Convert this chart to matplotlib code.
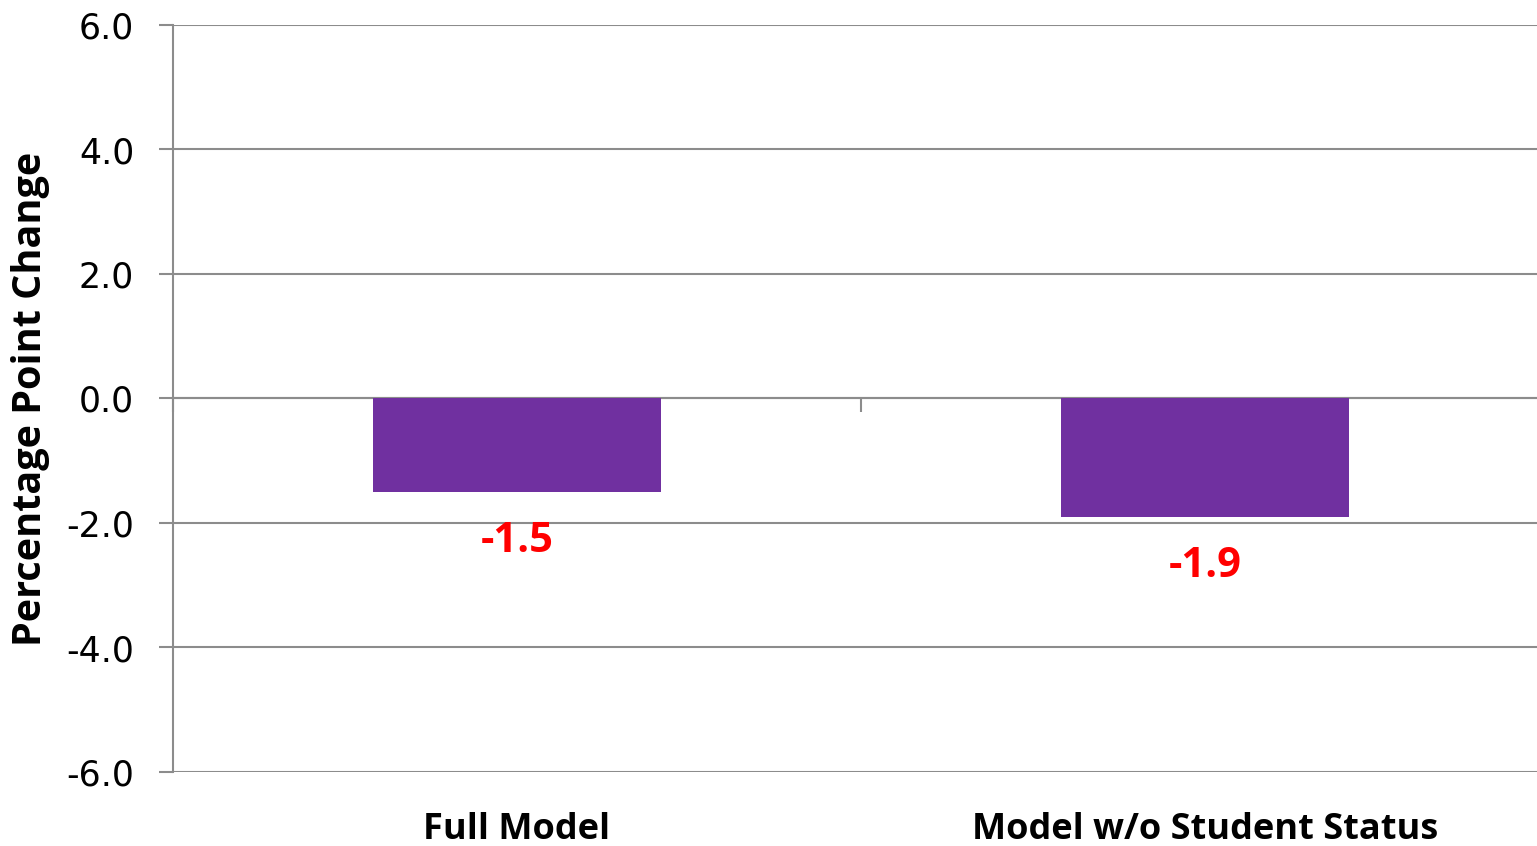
import numpy as np
import matplotlib
matplotlib.use('Agg')
import matplotlib.pyplot as plt

models = ['Full Model', 'Model w/o Student Status']
change = [-1.5, -1.9]
yticks = [-6.0, -4.0, -2.0, 0.0, 2.0, 4.0, 6.0]

grid_c = '#8c8c8c'
bar_c = '#7030a0'

fig = plt.figure(figsize=(15.37, 8.46), dpi=100)
# plot area runs a little past the right edge of the figure
ax = fig.add_axes([173 / 1537, 1 - 772 / 846, 1376 / 1537, (772 - 25) / 846])

x = np.arange(len(models))
ax.bar(x, change, width=0.42, color=bar_c, zorder=3)

ax.set_xlim(-0.5, len(models) - 0.5)
ax.set_ylim(yticks[0], yticks[-1])
ax.set_yticks(yticks)
ax.set_yticklabels([f'{v:.1f}' for v in yticks], fontsize=25, family='DejaVu Sans')
ax.tick_params(axis='y', length=10, width=1.5, color=grid_c, pad=18)
ax.yaxis.grid(True, color=grid_c, lw=1.5, zorder=0)

for s in ['top', 'right']:
    ax.spines[s].set_visible(False)
ax.spines['left'].set_color(grid_c)
ax.spines['left'].set_linewidth(1.5)
# horizontal axis crosses at zero, ticks at category boundaries
ax.spines['bottom'].set_position(('data', 0))
ax.spines['bottom'].set_color(grid_c)
ax.spines['bottom'].set_linewidth(1.5)
ax.set_xticks(np.arange(len(models) + 1) - 0.5)
ax.set_xticklabels([])
ax.tick_params(axis='x', length=10, width=1.5, color=grid_c, direction='out')

sec = ax.secondary_xaxis('bottom')
sec.set_xticks(x)
sec.set_xticklabels(models, fontsize=26, fontweight='bold', family='Open Sans')
sec.tick_params(length=0, pad=29)
sec.spines['bottom'].set_visible(False)

for xi, v in zip(x, change):
    ax.annotate(f'{v:.1f}', (xi, v), xytext=(0, -50), textcoords='offset pixels',
                ha='center', va='center', color='red', fontsize=30,
                fontweight='bold', family='Open Sans')

ax.set_ylabel('Percentage Point Change', fontsize=28.5, fontweight='bold',
              family='Open Sans', labelpad=12)

fig.savefig('out.png', dpi=100)
